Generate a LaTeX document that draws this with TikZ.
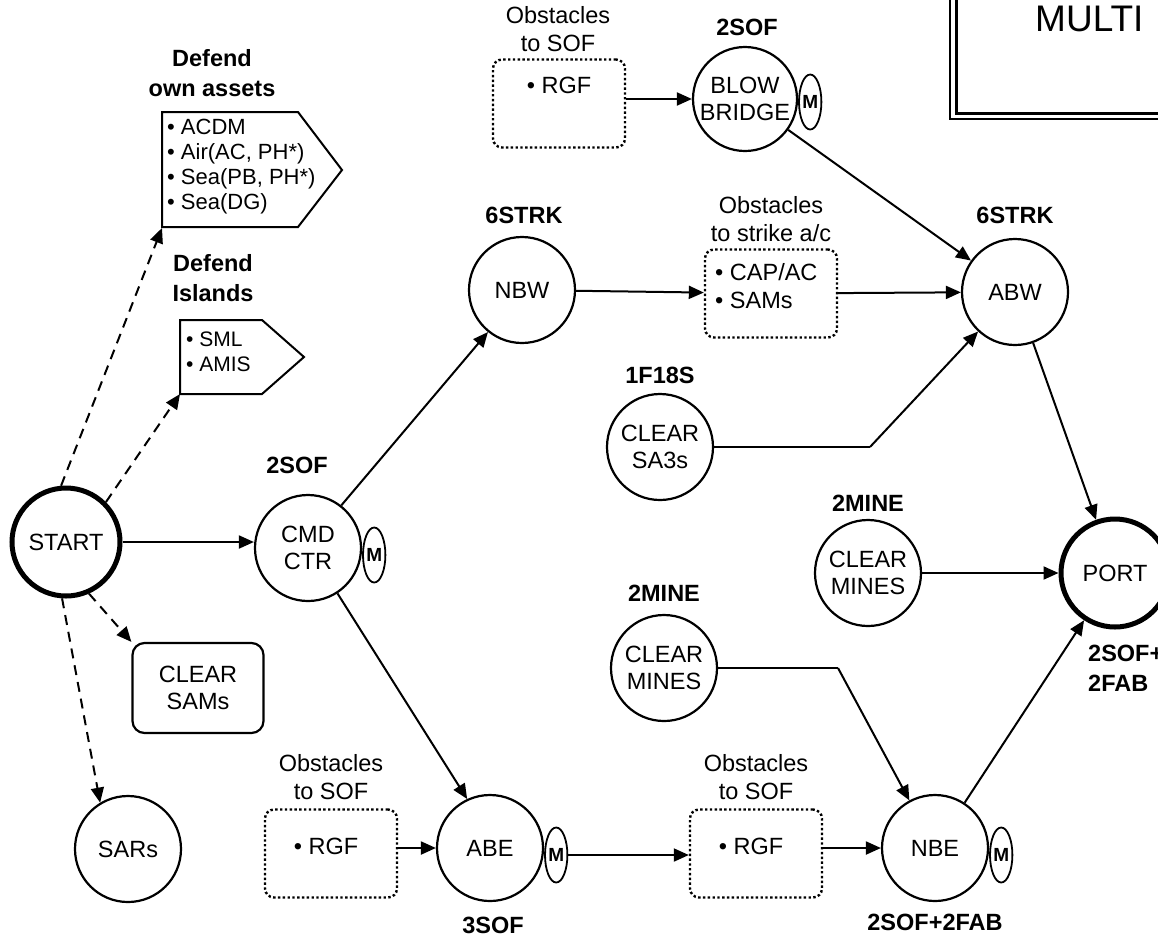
\documentclass[tikz,border=0pt]{standalone}
\usepackage{fontspec}
\setmainfont{Liberation Sans}
\usetikzlibrary{arrows.meta,shapes.geometric}
\tikzset{
  base/.style={font=\fontsize{23.5}{27}\selectfont},
  circ/.style={base,circle,draw,line width=2.2pt,minimum size=106pt,inner sep=0pt,align=center},
  thickcirc/.style={circ,line width=5pt,minimum size=108pt},
  mnode/.style={ellipse,draw,line width=1.8pt,minimum width=22pt,minimum height=55pt,inner sep=0pt,font=\fontsize{19}{21}\selectfont\bfseries},
  obox/.style={draw,line width=2.4pt,dash pattern=on 2.4pt off 2.4pt,rounded corners=9pt,minimum width=132pt,minimum height=88pt},
  rbox/.style={base,draw,line width=2.2pt,rounded corners=12pt,minimum width=131pt,minimum height=90pt,align=center},
  lbl/.style={font=\fontsize{23.5}{30}\selectfont\bfseries,align=center},
  txt/.style={font=\fontsize{23.5}{28}\selectfont,align=center,inner sep=0pt},
  item/.style={align=left,inner sep=0pt,anchor=north west},
  arr/.style={-{Triangle[length=15pt,width=13pt]},line width=2pt},
  darr/.style={arr,dash pattern=on 10pt off 7pt},
  plain/.style={line width=2pt},
}
\begin{document}
\begin{tikzpicture}[x=1pt,y=-1pt]
\useasboundingbox (0,0) rectangle (1158,946);
\begin{scope}
\clip (0,0) rectangle (1158,946);
% title frame
\draw[line width=2pt] (950,-20) -- (950,119) -- (1180,119);
\draw[line width=3pt] (956,-20) -- (956,113) -- (1180,113);
\node[anchor=base west,inner sep=0pt,font=\fontsize{37}{40}\selectfont] (title) at (1035,31) {MULTI};

% left pentagons
\node[lbl] (lassets) at (212,73) {Defend\\own assets};
\draw[line width=2pt] (162,112) -- (298,112) -- (342,170) -- (298,227) -- (162,227) -- cycle;
\coordinate (assetsc) at (162,228);
\node[item,font=\fontsize{22}{25}\selectfont] (assets) at (167,119) {\textbullet\ ACDM\\\textbullet\ Air(AC, PH*)\\\textbullet\ Sea(PB, PH*)\\\textbullet\ Sea(DG)};
\node[lbl] (lisl) at (213,278) {Defend\\Islands};
\draw[line width=2pt] (180,320) -- (262,320) -- (304,357) -- (262,394) -- (180,394) -- cycle;
\coordinate (islc) at (180,394);
\node[item,font=\fontsize{21}{25}\selectfont] (isl) at (186,332) {\textbullet\ SML\\\textbullet\ AMIS};

% main nodes
\node[thickcirc] (start) at (66,542) {START};
\node[circ] (cmd) at (308,548) {CMD\\CTR};
\node[mnode,anchor=west] (mcmd) at (cmd.east |- 0,555) {M};
\node[lbl] (lcmd) at (297,465) {2SOF};

\node[rbox] (clsam) at (198,688) {CLEAR\\SAMs};
\node[circ] (sars) at (128,849) {SARs};

\node[circ] (nbw) at (522,290) {NBW};
\node[lbl] (lnbw) at (524,215) {6STRK};
\node[circ] (abw) at (1015,292) {ABW};
\node[lbl] (labw) at (1015,215) {6STRK};

\node[txt] (lstrike) at (771,219) {Obstacles\\to strike a/c};
\node[obox] (strike) at (771,293.5) {};
\node[item,font=\fontsize{23.5}{28}\selectfont] (istrike) at (715,263) {\textbullet\ CAP/AC\\\textbullet\ SAMs};

\node[txt] (ltop) at (558,29) {Obstacles\\to SOF};
\node[obox] (otop) at (559,103.5) {};
\node[txt] (rtop) at (559,85) {\textbullet\ RGF};
\node[circ,minimum size=104pt] (blow) at (745,99) {BLOW\\BRIDGE};
\node[mnode,anchor=west] (mblow) at (blow.east |- 0,102) {M};
\node[lbl] (lblow) at (747,27) {2SOF};

\node[circ] (sa3) at (660,447) {CLEAR\\SA3s};
\node[lbl] (lsa3) at (660,375) {1F18S};
\coordinate (bend1) at (870,447);

\node[circ] (cm1) at (868,573) {CLEAR\\MINES};
\node[lbl] (lcm1) at (868,503) {2MINE};
\node[thickcirc] (port) at (1115,573) {PORT};
\node[lbl,align=left,anchor=north west,inner sep=0pt] (lport) at (1088,645) {2SOF+\\2FAB};

\node[circ] (cm2) at (664,668) {CLEAR\\MINES};
\node[lbl] (lcm2) at (664,593) {2MINE};
\coordinate (bend2) at (838,668);

\node[txt] (lbl1) at (331,777) {Obstacles\\to SOF};
\node[obox] (ob1) at (331,853.5) {};
\node[txt] (rb1) at (326,846) {\textbullet\ RGF};
\node[circ] (abe) at (490,848) {ABE};
\node[mnode,anchor=west] (mabe) at (abe.east |- 0,855) {M};
\node[lbl] (labe) at (493,925) {3SOF};

\node[txt] (lbl2) at (756,777) {Obstacles\\to SOF};
\node[obox] (ob2) at (756,853.5) {};
\node[txt] (rb2) at (751,846) {\textbullet\ RGF};
\node[circ] (nbe) at (935,848) {NBE};
\node[mnode,anchor=west] (mnbe) at (nbe.east |- 0,855) {M};
\node[lbl] (lnbe) at (935,922) {2SOF+2FAB};

% connectors
\draw[darr] (start.95) -- (assetsc);
\draw[darr] (start.45) -- (islc);
\draw[darr] (start.-66) -- (clsam.north west);
\draw[darr] (start.-94) -- (sars.121);
\draw[arr] (start) -- (start -| cmd.west);
\draw[arr] (cmd.52) -- (nbw.231);
\draw[arr] (cmd.-57) -- (abe.115);
\draw[arr] (nbw) -- (strike);
\draw[arr] (strike) -- (abw);
\draw[arr] (otop.east |- blow) -- (blow);
\draw[arr] (blow) -- (abw);
\draw[plain] (sa3) -- (bend1);
\draw[arr] (bend1) -- (abw);
\draw[arr] (abw) -- (port);
\draw[arr] (cm1) -- (port);
\draw[plain] (cm2) -- (bend2);
\draw[arr] (bend2) -- (nbe);
\draw[arr] (nbe) -- (port);
\draw[arr] (ob1.east |- abe) -- (abe);
\draw[arr] (mabe) -- (ob2.west |- mabe);
\draw[arr] (ob2.east |- nbe) -- (nbe);
\end{scope}
\end{tikzpicture}
\end{document}
